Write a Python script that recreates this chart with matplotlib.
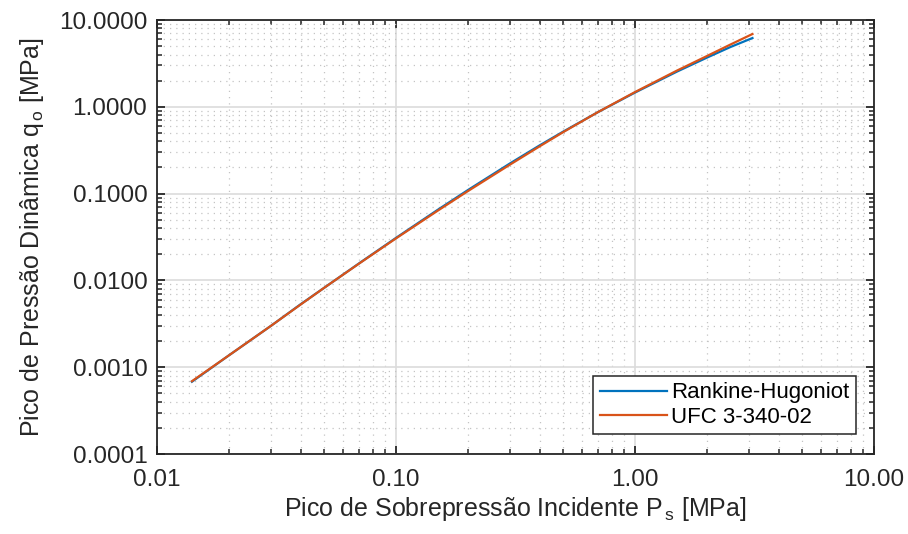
import matplotlib
matplotlib.use("Agg")
import matplotlib.pyplot as plt
from matplotlib.ticker import FixedLocator, FixedFormatter, LogLocator, NullFormatter

# Peak incident overpressure [MPa]
ps = [0.014, 0.02, 0.03, 0.04, 0.05, 0.07, 0.1, 0.15, 0.2, 0.3, 0.4, 0.5, 0.7, 1.0, 1.5, 2.0, 2.5, 3.1]
# Peak dynamic pressure [MPa]
q_rankine = [0.00068, 0.00137, 0.0030, 0.00534, 0.0082, 0.0157, 0.0309, 0.0655, 0.110, 0.223,
             0.361, 0.517, 0.869, 1.46, 2.55, 3.69, 4.87, 6.2]
q_ufc = [0.00069, 0.00137, 0.0030, 0.0053, 0.0082, 0.0156, 0.0305, 0.064, 0.107, 0.216,
         0.352, 0.51, 0.87, 1.48, 2.62, 3.85, 5.2, 6.9]

x_ticks = [0.01, 0.1, 1, 10]
x_labels = ["0.01", "0.10", "1.00", "10.00"]
y_ticks = [0.0001, 0.001, 0.01, 0.1, 1, 10]
y_labels = ["0.0001", "0.0010", "0.0100", "0.1000", "1.0000", "10.0000"]

plt.rcParams["font.family"] = ["Liberation Sans", "DejaVu Sans"]
plt.rcParams["mathtext.fontset"] = "custom"
plt.rcParams["mathtext.rm"] = "Liberation Sans"
plt.rcParams["mathtext.it"] = "Liberation Sans"

fig = plt.figure(figsize=(9.08, 5.34), dpi=100)
ax = fig.add_axes([0.1729, 0.1498, 0.7897, 0.8127])

ax.loglog(ps, q_rankine, color=(0.0, 0.447, 0.741), linewidth=1.6, label="Rankine-Hugoniot")
ax.loglog(ps, q_ufc, color=(0.85, 0.325, 0.098), linewidth=1.6, label="UFC 3-340-02")

ax.set_xlim(0.01, 10)
ax.set_ylim(0.0001, 10)

ax.xaxis.set_major_locator(FixedLocator(x_ticks))
ax.xaxis.set_major_formatter(FixedFormatter(x_labels))
ax.yaxis.set_major_locator(FixedLocator(y_ticks))
ax.yaxis.set_major_formatter(FixedFormatter(y_labels))
ax.xaxis.set_minor_locator(LogLocator(base=10, subs=range(2, 10), numticks=20))
ax.yaxis.set_minor_locator(LogLocator(base=10, subs=range(2, 10), numticks=20))
ax.xaxis.set_minor_formatter(NullFormatter())
ax.yaxis.set_minor_formatter(NullFormatter())

ax.grid(True, which="major", color="#dcdcdc", linewidth=1.2, linestyle="-")
ax.grid(True, which="minor", color="#c4c4c4", linewidth=0.9, linestyle=(0, (1, 4)))
ax.set_axisbelow(True)

for s in ax.spines.values():
    s.set_color("#262626")
    s.set_linewidth(1.3)

ax.tick_params(which="both", direction="in", top=True, right=True, colors="#262626",
               labelcolor="#262626", labelsize=17.5)
ax.tick_params(which="major", length=6, width=1.3)
ax.tick_params(which="minor", length=3.5, width=1.1)
ax.tick_params(axis="x", which="major", pad=11)
ax.tick_params(axis="y", which="major", pad=7)

ax.set_xlabel(r"Pico de Sobrepressão Incidente P$_{\,\mathrm{s}}$ [MPa]", fontsize=18,
              color="#262626", labelpad=3)
ax.set_ylabel(r"Pico de Pressão Dinâmica q$_{\,\mathrm{o}}$ [MPa]", fontsize=18,
              color="#262626", labelpad=9)

leg = ax.legend(loc="lower right", fontsize=16, fancybox=False, framealpha=1,
                edgecolor="#262626", borderpad=0.3, handlelength=3.0, handletextpad=0.2,
                labelspacing=0.15, borderaxespad=0, bbox_to_anchor=(0.975, 0.045))
leg.get_frame().set_linewidth(1.1)

fig.savefig("out.png", dpi=100)
plt.close(fig)
